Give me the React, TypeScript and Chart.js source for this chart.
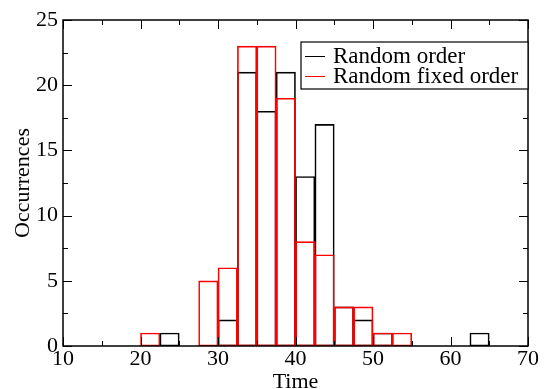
import { useEffect, useRef } from 'react';
import { Chart, registerables } from 'chart.js';

Chart.register(...registerables);

const binCenters = [21.25, 23.75, 26.25, 28.75, 31.25, 33.75, 36.25, 38.75, 41.25, 43.75, 46.25, 48.75, 51.25, 53.75, 56.25, 58.75, 61.25, 63.75];
const randomOrder = [0, 1, 0, 0, 2, 21, 18, 21, 13, 17, 3, 2, 1, 0, 0, 0, 0, 1];
const randomFixedOrder = [1, 0, 0, 5, 6, 23, 23, 19, 8, 7, 3, 3, 1, 1, 0, 0, 0, 0];
const seriesLabels = ['Random order', 'Random fixed order'];
const seriesColors = ['#000000', '#ff0000'];
const xTitle = 'Time';
const yTitle = 'Occurrences';

const FONT = '"Liberation Serif", "Times New Roman", "DejaVu Serif", serif';

function toPoints(values: number[]) {
  return binCenters
    .map((x, i) => ({ x, y: values[i] }))
    .filter((p) => p.y > 0);
}

const framePlugin = {
  id: 'frameTicksLegend',
  afterDraw(chart: any) {
    const { ctx, chartArea } = chart;
    const { left, right, top, bottom } = chartArea;
    const xs = chart.scales.x;
    const ys = chart.scales.y;
    ctx.save();
    ctx.strokeStyle = '#000';
    ctx.lineWidth = 1;
    const major = 9;
    const minor = 5;
    for (let v = xs.min; v <= xs.max + 1e-9; v += 5) {
      const px = Math.round(xs.getPixelForValue(v)) + 0.5;
      const len = Math.abs(v % 10) < 1e-9 ? major : minor;
      ctx.beginPath();
      ctx.moveTo(px, bottom);
      ctx.lineTo(px, bottom - len);
      ctx.moveTo(px, top);
      ctx.lineTo(px, top + len);
      ctx.stroke();
    }
    for (let v = ys.min; v <= ys.max + 1e-9; v += 2.5) {
      const py = Math.round(ys.getPixelForValue(v)) + 0.5;
      const len = Math.abs(v % 5) < 1e-9 ? major : minor;
      ctx.beginPath();
      ctx.moveTo(left, py);
      ctx.lineTo(left + len, py);
      ctx.moveTo(right, py);
      ctx.lineTo(right - len, py);
      ctx.stroke();
    }
    ctx.lineWidth = 1.5;
    ctx.strokeRect(left, top, right - left, bottom - top);

    const bw = 227;
    const bx = right - bw;
    const by = top + 22;
    const bh = 47;
    ctx.fillStyle = '#fff';
    ctx.fillRect(bx, by, bw, bh);
    ctx.lineWidth = 1.2;
    ctx.strokeStyle = '#000';
    ctx.strokeRect(bx, by, bw, bh);
    ctx.font = `23px ${FONT}`;
    ctx.textBaseline = 'middle';
    ctx.textAlign = 'left';
    seriesLabels.forEach((lab, i) => {
      const cy = by + 14 + i * 20;
      ctx.strokeStyle = seriesColors[i];
      ctx.lineWidth = 1;
      ctx.beginPath();
      ctx.moveTo(bx + 4, Math.round(cy) + 0.5);
      ctx.lineTo(bx + 24, Math.round(cy) + 0.5);
      ctx.stroke();
      ctx.fillStyle = '#000';
      ctx.fillText(lab, bx + 32, cy + 1);
    });
    ctx.restore();
  },
};

export default function App() {
  const canvasRef = useRef<HTMLCanvasElement | null>(null);

  useEffect(() => {
    const canvas = canvasRef.current;
    if (!canvas) return;
    let chart: Chart | null = null;
    let cancelled = false;

    const build = () => {
      if (cancelled) return;
      chart = new Chart(canvas, {
        type: 'bar',
        data: {
          datasets: [
            {
              label: seriesLabels[0],
              data: toPoints(randomOrder),
              borderColor: seriesColors[0],
              backgroundColor: 'rgba(0,0,0,0)',
              borderWidth: 1,
              borderSkipped: false,
              barPercentage: 1,
              categoryPercentage: 1,
              grouped: false,
              order: 1,
            } as any,
            {
              label: seriesLabels[1],
              data: toPoints(randomFixedOrder),
              borderColor: seriesColors[1],
              backgroundColor: 'rgba(0,0,0,0)',
              borderWidth: 1,
              borderSkipped: false,
              barPercentage: 1,
              categoryPercentage: 1,
              grouped: false,
              order: 0,
            } as any,
          ],
        },
        options: {
          responsive: false,
          animation: false,
          layout: { padding: { left: 0, top: 20, right: 20, bottom: 0 } },
          plugins: {
            legend: { display: false },
            tooltip: { enabled: false },
          },
          scales: {
            x: {
              type: 'linear',
              min: 10,
              max: 70,
              offset: false,
              grid: { display: false, drawTicks: false },
              border: { display: false },
              ticks: {
                stepSize: 10,
                color: '#000',
                padding: 0,
                maxRotation: 0,
                font: { family: FONT, size: 22 },
              },
              title: {
                display: true,
                text: xTitle,
                color: '#000',
                font: { family: FONT, size: 22 },
                padding: { top: 0, bottom: -6 },
              },
              afterFit: (scale: any) => {
                scale.height = 43;
              },
            },
            y: {
              type: 'linear',
              min: 0,
              max: 25,
              grid: { display: false, drawTicks: false },
              border: { display: false },
              ticks: {
                stepSize: 5,
                color: '#000',
                padding: 5,
                font: { family: FONT, size: 22 },
              },
              title: {
                display: true,
                text: yTitle,
                color: '#000',
                font: { family: FONT, size: 22 },
                padding: { top: 10, bottom: 0 },
              },
              afterFit: (scale: any) => {
                scale.width = 63;
              },
            },
          },
        } as any,
        plugins: [framePlugin],
      });
    };

    const fontsApi = (document as any).fonts;
    if (fontsApi && fontsApi.load) {
      Promise.all([
        fontsApi.load('22px "Liberation Serif"'),
        fontsApi.load('22px "DejaVu Serif"'),
      ])
        .catch(() => null)
        .then(build);
    } else {
      build();
    }

    return () => {
      cancelled = true;
      if (chart) chart.destroy();
    };
  }, []);

  return (
    <div style={{ position: 'absolute', left: 0, top: 0, width: 548, height: 389, background: '#fff' }}>
      <span style={{ fontFamily: FONT, position: 'absolute', visibility: 'hidden' }}>Random</span>
      <canvas ref={canvasRef} width={548} height={389} />
    </div>
  );
}
